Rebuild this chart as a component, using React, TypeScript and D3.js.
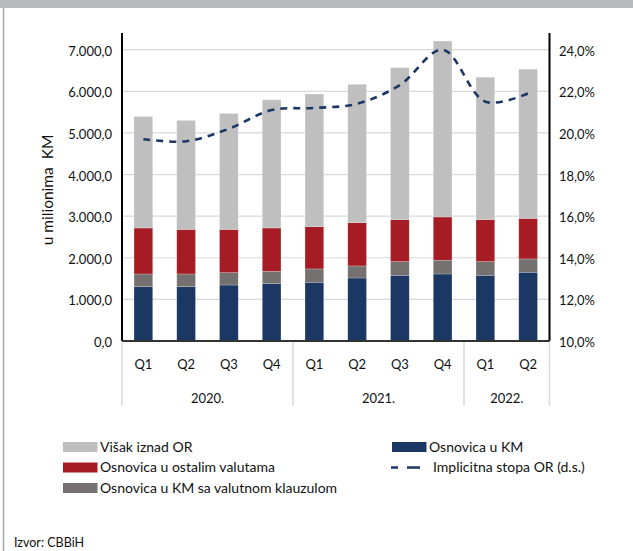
import React from "react";
import * as d3 from "d3";

const quarters = ["Q1", "Q2", "Q3", "Q4", "Q1", "Q2", "Q3", "Q4", "Q1", "Q2"];
const years = ["2020.", "2021.", "2022."];
const yearSpans = [4, 4, 2];
const osnovicaKM = [1304, 1304, 1345, 1377, 1411, 1514, 1579, 1611, 1579, 1652];
const osnovicaKlauzula = [307, 307, 298, 299, 321, 290, 329, 331, 329, 321];
const osnovicaOstale = [1104, 1070, 1038, 1039, 1014, 1039, 1007, 1038, 1007, 974];
const visak = [2681, 2619, 2788, 3082, 3189, 3326, 3655, 4228, 3423, 3584];
const stopa = [19.7, 19.6, 20.2, 21.1, 21.2, 21.4, 22.3, 24.0, 21.5, 21.9];
const leftTicks = [0, 1000, 2000, 3000, 4000, 5000, 6000, 7000];
const rightTicks = [10, 12, 14, 16, 18, 20, 22, 24];

const seriesNames = [
  "Osnovica u KM",
  "Osnovica u KM sa valutnom klauzulom",
  "Osnovica u ostalim valutama",
  "Višak iznad OR",
];
const seriesColors = ["#1b3764", "#767171", "#a61c24", "#bfbfbf"];
const lineName = "Implicitna stopa OR (d.s.)";
const lineColor = "#1b3764";

const FONT = "Lato, 'Open Sans', sans-serif";

export default function App() {
  const W = 633, H = 551;
  const left = 122, right = 549.5, top = 33, bottom = 341;
  const y = d3.scaleLinear().domain([0, 7000]).range([bottom, 49.7]);
  const y2 = d3.scaleLinear().domain([10, 24]).range([bottom, 49.7]);
  const step = (right - left) / quarters.length;
  const cx = (i: number) => left + step * (i + 0.5);
  const bw = 18.7;

  const stackData = quarters.map((_, i) => ({
    a: osnovicaKM[i], b: osnovicaKlauzula[i], c: osnovicaOstale[i], d: visak[i],
  }));
  const stack = d3.stack<any>().keys(["a", "b", "c", "d"])(stackData);

  const line = d3.line<number>().x((_, i) => cx(i)).y((d) => y2(d)).curve(d3.curveCatmullRom.alpha(0.5));

  const sepIdx = [0];
  yearSpans.forEach((s) => sepIdx.push(sepIdx[sepIdx.length - 1] + s));

  const fmt = (t: number) => d3.format(",.1f")(t).replace(/,/g, "X").replace(/\./g, ",").replace(/X/g, ".");

  return (
    <svg width={W} height={H} style={{ position: "absolute", left: 0, top: 0, background: "#fff" }} fontFamily={FONT}>
      <rect x={0} y={0} width={W} height={8} fill="#b9babc" />
      <line x1={3.5} x2={3.5} y1={8} y2={H} stroke="#a8a8a8" strokeWidth={1.5} />

      {leftTicks.filter((t) => t > 0).map((t) => (
        <line key={t} x1={left} x2={right} y1={y(t)} y2={y(t)} stroke="#d9d9d9" strokeWidth={1.2} />
      ))}

      {stack.map((s, si) => (
        <g key={si} fill={seriesColors[si]}>
          {s.map((d, i) => (
            <rect key={i} x={cx(i) - bw / 2} y={y(d[1])} width={bw} height={y(d[0]) - y(d[1])}
              stroke="#ffffff" strokeOpacity={0.35} strokeWidth={0.6} />
          ))}
        </g>
      ))}

      <path d={line(stopa) || ""} fill="none" stroke={lineColor} strokeWidth={2.6} strokeDasharray="7,6" />

      <line x1={left} x2={left} y1={top} y2={bottom} stroke="#000" strokeWidth={2} />
      <line x1={right} x2={right} y1={top} y2={bottom} stroke="#000" strokeWidth={2} />
      <line x1={left} x2={right} y1={bottom} y2={bottom} stroke="#333" strokeWidth={2} />

      {leftTicks.map((t) => (
        <text key={t} x={112} y={y(t) + 1.5} dy="0.35em" textAnchor="end" fontSize={13} fill="#111">{fmt(t)}</text>
      ))}
      {rightTicks.map((t) => (
        <text key={t} x={559} y={y2(t) + 1.5} dy="0.35em" textAnchor="start" fontSize={13} fill="#111">
          {t.toFixed(1).replace(".", ",") + "%"}
        </text>
      ))}

      <text transform={`translate(48,190) rotate(-90)`} textAnchor="middle" fontSize={15.5} fill="#111" dy="0.35em" style={{ whiteSpace: "pre" }}>
        {"u milionima\u00a0\u00a0KM"}
      </text>

      {quarters.map((q, i) => (
        <text key={i} x={cx(i)} y={364} dy="0.35em" textAnchor="middle" fontSize={13} fill="#111">{q}</text>
      ))}
      {sepIdx.map((k, i) => (
        <line key={i} x1={left + step * k} x2={left + step * k} y1={bottom + 1} y2={406} stroke="#d9d9d9" strokeWidth={1.5} />
      ))}
      {years.map((yr, i) => (
        <text key={yr} x={left + step * (sepIdx[i] + sepIdx[i + 1]) / 2} y={398} dy="0.35em" textAnchor="middle" fontSize={13} fill="#111">{yr}</text>
      ))}

      {[
        { name: seriesNames[3], color: seriesColors[3], x: 63, y: 447 },
        { name: seriesNames[2], color: seriesColors[2], x: 63, y: 467.5 },
        { name: seriesNames[1], color: seriesColors[1], x: 63, y: 488 },
        { name: seriesNames[0], color: seriesColors[0], x: 392, y: 447 },
      ].map((l) => (
        <g key={l.name}>
          <rect x={l.x} y={l.y - 5} width={34.5} height={10} fill={l.color} />
          <text x={l.x + 37} y={l.y} dy="0.35em" fontSize={14} fill="#111">{l.name}</text>
        </g>
      ))}
      <line x1={391} x2={420} y1={467.5} y2={467.5} stroke={lineColor} strokeWidth={2.6} strokeDasharray="7,9,13" />
      <text x={433} y={467.5} dy="0.35em" fontSize={14} fill="#111">{lineName}</text>

      <text x={14} y={543} dy="0.35em" fontSize={12.5} fill="#111">Izvor: CBBiH</text>
    </svg>
  );
}
